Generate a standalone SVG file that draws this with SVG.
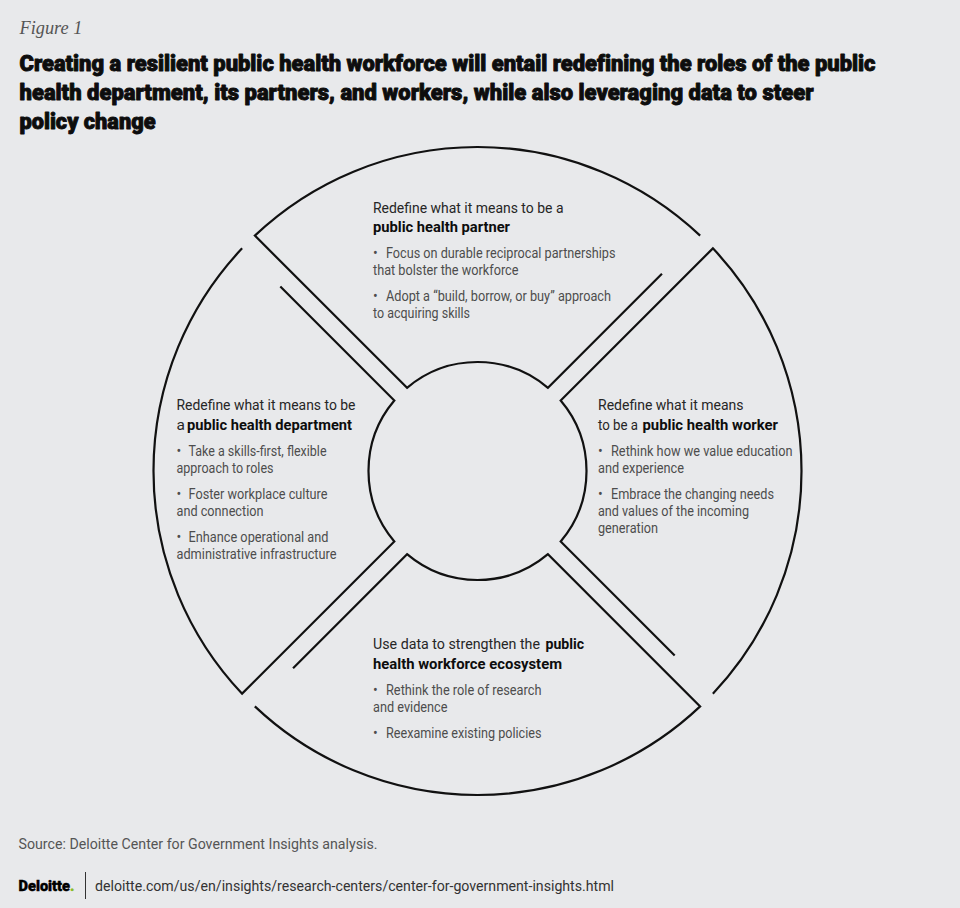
<svg xmlns="http://www.w3.org/2000/svg" xmlns:xlink="http://www.w3.org/1999/xlink" width="960" height="908" viewBox="0 0 960 908">
<style>
.bg{fill:#e8e9eb}
.seg{fill:none;stroke:#111;stroke-width:2.2;stroke-linejoin:miter}
.fig{font-family:"Liberation Serif",serif;font-style:italic;font-size:18.3px;fill:#555}
.title{font-family:Roboto,"Liberation Sans",sans-serif;font-weight:900;font-size:21.5px;fill:#0d0d0d;stroke:#0d0d0d;stroke-width:0.9;stroke-linejoin:round;font-variant-ligatures:none}
.h{font-family:Roboto,"Liberation Sans",sans-serif;font-size:15.5px;fill:#262626}
.b{font-weight:700;fill:#0d0d0d}
.t{font-family:Roboto,"Liberation Sans",sans-serif;font-size:14px;fill:#4d4d4d}
.src{font-family:Roboto,"Liberation Sans",sans-serif;font-size:14.5px;fill:#555}
.url{font-family:Roboto,"Liberation Sans",sans-serif;font-size:15.5px;fill:#333}
.logo{font-family:Roboto,"Liberation Sans",sans-serif;font-weight:900;font-size:14px;fill:#000;stroke:#000;stroke-width:0.4}
</style>
<defs>
<path id="segpath" d="M184.45,-197.18 L70.45,-83.18 A109,109 0 0 0 -70.45,-83.18 L-222.65,-235.38 A324,324 0 0 1 222.65,-235.38"/>
</defs>
<rect class="bg" x="0" y="0" width="960" height="908"/>

<g id="header">
<text class="fig" x="19.5" y="34">Figure 1</text>
<text class="title" x="19.5" y="71" textLength="856" lengthAdjust="spacingAndGlyphs">Creating a resilient public health workforce will entail redefining the roles of the public</text>
<text class="title" x="19.5" y="100" textLength="794" lengthAdjust="spacingAndGlyphs">health department, its partners, and workers, while also leveraging data to steer</text>
<text class="title" x="19.5" y="129" textLength="136" lengthAdjust="spacingAndGlyphs">policy change</text>
</g>

<g id="node-partner">
<use xlink:href="#segpath" class="seg" transform="translate(477.5,471)"/>
<text class="h" x="373" y="212.5" textLength="190.5" lengthAdjust="spacingAndGlyphs">Redefine what it means to be a</text>
<text class="h b" x="373" y="232" textLength="137" lengthAdjust="spacingAndGlyphs">public health partner</text>
<text class="t" x="373" y="258">•</text>
<text class="t" x="386" y="258" textLength="229.5" lengthAdjust="spacingAndGlyphs">Focus on durable reciprocal partnerships</text>
<text class="t" x="373" y="275" textLength="145.5" lengthAdjust="spacingAndGlyphs">that bolster the workforce</text>
<text class="t" x="373" y="301">•</text>
<text class="t" x="386" y="301" textLength="225" lengthAdjust="spacingAndGlyphs">Adopt a “build, borrow, or buy” approach</text>
<text class="t" x="373" y="318" textLength="97" lengthAdjust="spacingAndGlyphs">to acquiring skills</text>
</g>

<g id="node-worker">
<use xlink:href="#segpath" class="seg" transform="translate(477.5,471) rotate(90)"/>
<text class="h" x="598" y="410" textLength="145.5" lengthAdjust="spacingAndGlyphs">Redefine what it means</text>
<text class="h" x="598" y="429.5" textLength="40" lengthAdjust="spacingAndGlyphs">to be a</text>
<text class="h b" x="642.5" y="429.5" textLength="135.5" lengthAdjust="spacingAndGlyphs">public health worker</text>
<text class="t" x="598" y="455.5">•</text>
<text class="t" x="611" y="455.5" textLength="181.5" lengthAdjust="spacingAndGlyphs">Rethink how we value education</text>
<text class="t" x="598" y="472.5" textLength="86" lengthAdjust="spacingAndGlyphs">and experience</text>
<text class="t" x="598" y="498.5">•</text>
<text class="t" x="611" y="498.5" textLength="163" lengthAdjust="spacingAndGlyphs">Embrace the changing needs</text>
<text class="t" x="598" y="515.5" textLength="151" lengthAdjust="spacingAndGlyphs">and values of the incoming</text>
<text class="t" x="598" y="532.5" textLength="60" lengthAdjust="spacingAndGlyphs">generation</text>
</g>

<g id="node-ecosystem">
<use xlink:href="#segpath" class="seg" transform="translate(477.5,471) rotate(180)"/>
<text class="h" x="373" y="649" font-size="14.2" textLength="167" lengthAdjust="spacingAndGlyphs">Use data to strengthen the</text>
<text class="h b" x="545.5" y="649" textLength="38.5" lengthAdjust="spacingAndGlyphs">public</text>
<text class="h b" x="373" y="668.5" textLength="189" lengthAdjust="spacingAndGlyphs">health workforce ecosystem</text>
<text class="t" x="373" y="694.5">•</text>
<text class="t" x="386" y="694.5" textLength="155.5" lengthAdjust="spacingAndGlyphs">Rethink the role of research</text>
<text class="t" x="373" y="711.5" textLength="74.5" lengthAdjust="spacingAndGlyphs">and evidence</text>
<text class="t" x="373" y="737.5">•</text>
<text class="t" x="386" y="737.5" textLength="155.5" lengthAdjust="spacingAndGlyphs">Reexamine existing policies</text>
</g>

<g id="node-department">
<use xlink:href="#segpath" class="seg" transform="translate(477.5,471) rotate(270)"/>
<text class="h" x="176.5" y="410" textLength="179" lengthAdjust="spacingAndGlyphs">Redefine what it means to be</text>
<text class="h" x="176.5" y="429.5">a</text>
<text class="h b" x="187" y="429.5" textLength="165" lengthAdjust="spacingAndGlyphs">public health department</text>
<text class="t" x="176.5" y="455.5">•</text>
<text class="t" x="188.5" y="455.5" textLength="138" lengthAdjust="spacingAndGlyphs">Take a skills-first, flexible</text>
<text class="t" x="176.5" y="472.5" textLength="97" lengthAdjust="spacingAndGlyphs">approach to roles</text>
<text class="t" x="176.5" y="498.5">•</text>
<text class="t" x="188.5" y="498.5" textLength="139" lengthAdjust="spacingAndGlyphs">Foster workplace culture</text>
<text class="t" x="176.5" y="515.5" textLength="87" lengthAdjust="spacingAndGlyphs">and connection</text>
<text class="t" x="176.5" y="541.5">•</text>
<text class="t" x="188.5" y="541.5" textLength="140" lengthAdjust="spacingAndGlyphs">Enhance operational and</text>
<text class="t" x="176.5" y="558.5" textLength="160" lengthAdjust="spacingAndGlyphs">administrative infrastructure</text>
</g>

<g id="footer">
<text class="src" x="18.5" y="849" textLength="359" lengthAdjust="spacingAndGlyphs">Source: Deloitte Center for Government Insights analysis.</text>
<text class="logo" x="18.5" y="890.5" textLength="56" lengthAdjust="spacingAndGlyphs">Deloitte<tspan fill="#86bc25" stroke="#86bc25">.</tspan></text>
<line x1="85.5" y1="872" x2="85.5" y2="899" stroke="#333" stroke-width="1"/>
<text class="url" x="95" y="890.5" textLength="519" lengthAdjust="spacingAndGlyphs">deloitte.com/us/en/insights/research-centers/center-for-government-insights.html</text>
</g>
</svg>
